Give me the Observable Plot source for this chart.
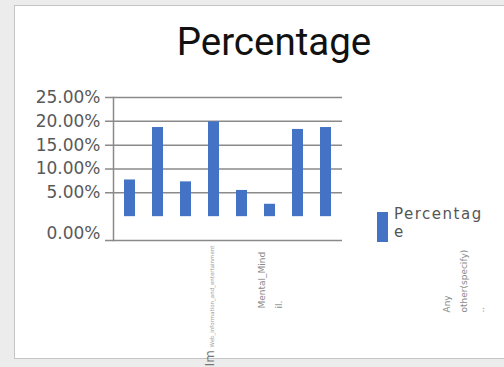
<!DOCTYPE html>
<html><head><meta charset="utf-8">
<script src="https://cdn.jsdelivr.net/npm/d3@7"></script>
<script src="https://cdn.jsdelivr.net/npm/@observablehq/plot@0.6"></script>
<style>
html,body{margin:0;padding:0}
body{width:504px;height:367px;overflow:hidden;position:relative;background:#ececec;font-family:"DejaVu Sans",sans-serif}
#card{position:absolute;left:14px;top:5px;width:530px;height:352px;background:#fff;border:1px solid #c4c4c4}
#title{position:absolute;left:0;top:23px;width:548px;text-align:center;font-family:Roboto,sans-serif;font-size:38.5px;line-height:38px;color:#111}
#chart{position:absolute;left:0;top:0}
#legend{position:absolute;left:377px;top:205px}
#legend .sw{position:absolute;left:0;top:7px;width:11px;height:30px;background:#4472c4}
#legend .lb{position:absolute;left:17px;top:1px;width:115px;font-size:15px;line-height:17.6px;letter-spacing:1.5px;color:#555}
</style></head>
<body>
<div id="card"></div>
<div id="chart"></div>
<div id="title"></div>
<div id="legend"><div class="sw"></div><div class="lb"></div></div>
<script>
// ---- data ----
const titleText = "Percentage";
const seriesName = "Percentage";
const categories = ["C1", "C2", "C3", "Information_Entertainment", "Mental_Mind", "C6", "C7", "Any other(specify)"];
const values = [0.077, 0.187, 0.073, 0.199, 0.055, 0.026, 0.183, 0.187];
const yTicks = [0.25, 0.20, 0.15, 0.10, 0.05];
const yTickLabels = ["25.00%", "20.00%", "15.00%", "10.00%", "5.00%"];
const baseTick = -0.05;
const baseLabel = "0.00%";
const xLabel1Big = "Im";
const xLabel1Small = "Web_information_and_entertainment";
const xLabel2 = "Mental_Mind\nil.";
const xLabel3 = "Any\nother(specify)\n..";

document.getElementById("title").textContent = titleText;
document.querySelector("#legend .lb").innerHTML = "Percentag<br>e";

const rows = categories.map((c, i) => ({cat: c, value: values[i]}));
const fmt = new Map(yTicks.map((t, i) => [t, yTickLabels[i]]));

const chart = Plot.plot({
  width: 504, height: 367,
  marginLeft: 113, marginRight: 162, marginTop: 97, marginBottom: 127,
  x: {domain: categories, paddingInner: 0.62, paddingOuter: 0.31, axis: null},
  y: {domain: [baseTick, 0.25], axis: null},
  style: {fontFamily: "DejaVu Sans, sans-serif", background: "transparent", overflow: "visible"},
  marks: [
    Plot.ruleY(yTicks.concat([baseTick]), {stroke: "#8a8a8a", strokeWidth: 1.5, insetLeft: -8}),
    Plot.frame({anchor: "left", stroke: "#8a8a8a", strokeWidth: 1.5}),
    Plot.barY(rows, {x: "cat", y: "value", fill: "#4472c4"}),
    Plot.axisY({ticks: yTicks, label: null, tickSize: 0, tickPadding: 13, tickFormat: d => fmt.get(d), fontSize: 17, fill: "#595959"}),
    Plot.axisY({ticks: [baseTick], label: null, tickSize: 0, tickPadding: 13, tickFormat: () => baseLabel, fontSize: 17, fill: "#595959", dy: -7}),
    // rotated category labels
    Plot.text([categories[3]], {x: d => d, text: () => xLabel1Small, frameAnchor: "bottom", dy: 5, rotate: -90, textAnchor: "end", fontSize: 5.5, fill: "#9a9a9a"}),
    Plot.text([categories[3]], {x: d => d, text: () => xLabel1Big, frameAnchor: "bottom", dy: 126, rotate: -90, textAnchor: "start", fontSize: 13, fill: "#777"}),
    Plot.text([categories[4]], {x: d => d, text: () => xLabel2, frameAnchor: "bottom", dy: 68, dx: 11, rotate: -90, textAnchor: "start", lineAnchor: "top", lineHeight: 1.9, fontSize: 9, fill: "#8a8a8a"}),
    Plot.text([categories[7]], {x: d => d, text: () => xLabel3, frameAnchor: "bottom", dy: 72, dx: 112, rotate: -90, textAnchor: "start", lineAnchor: "top", lineHeight: 1.9, fontSize: 9, fill: "#8a8a8a"})
  ]
});
document.getElementById("chart").appendChild(chart);
</script>
</body></html>
